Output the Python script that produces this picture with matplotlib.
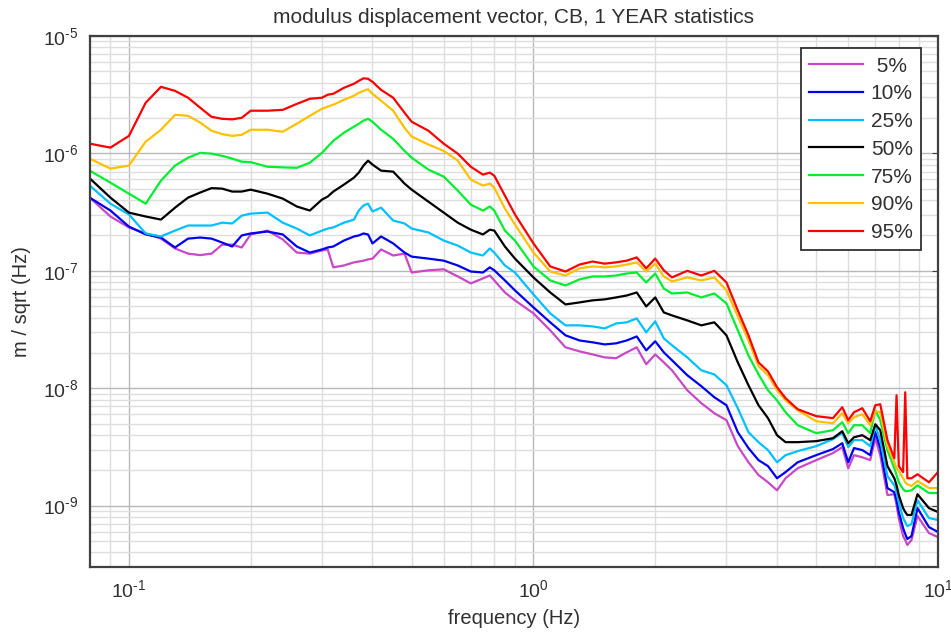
import matplotlib
matplotlib.use("Agg")
import matplotlib.pyplot as plt
from matplotlib.ticker import FuncFormatter
import math

# frequency grid (Hz)
freq = [0.08, 0.09, 0.10, 0.11, 0.12, 0.13, 0.14, 0.15, 0.16, 0.17,
        0.18, 0.19, 0.20, 0.22, 0.24, 0.26, 0.28, 0.30, 0.31, 0.32,
        0.34, 0.36, 0.37, 0.38, 0.39, 0.40, 0.42, 0.45, 0.48, 0.50,
        0.55, 0.60, 0.65, 0.70, 0.75, 0.78, 0.80, 0.85, 0.90, 1.0,
        1.1, 1.2, 1.3, 1.4, 1.5, 1.6, 1.7, 1.8, 1.9, 2.0,
        2.1, 2.2, 2.4, 2.6, 2.8, 3.0, 3.2, 3.4, 3.6, 3.8,
        4.0, 4.2, 4.5, 5.0, 5.5, 5.8, 6.0, 6.2, 6.5, 6.8,
        7.0, 7.2, 7.5, 7.8, 7.9, 8.0, 8.2, 8.3, 8.4, 8.6,
        8.9, 9.5, 10.0]

# percentile curves, m / sqrt(Hz)
p05 = [4.20e-7, 2.90e-7, 2.34e-7, 2.08e-7, 1.88e-7, 1.55e-7, 1.40e-7, 1.36e-7, 1.40e-7, 1.67e-7,
       1.67e-7, 1.58e-7, 2.04e-7, 2.20e-7, 1.85e-7, 1.43e-7, 1.40e-7, 1.49e-7, 1.52e-7, 1.07e-7,
       1.11e-7, 1.18e-7, 1.20e-7, 1.22e-7, 1.25e-7, 1.27e-7, 1.52e-7, 1.35e-7, 1.40e-7, 9.67e-8,
       1.01e-7, 1.03e-7, 8.95e-8, 7.81e-8, 8.61e-8, 9.12e-8, 8.28e-8, 6.54e-8, 5.60e-8, 4.34e-8,
       3.11e-8, 2.23e-8, 2.06e-8, 1.94e-8, 1.83e-8, 1.80e-8, 2.02e-8, 2.23e-8, 1.60e-8, 1.94e-8,
       1.66e-8, 1.42e-8, 9.61e-9, 7.45e-9, 6.12e-9, 5.34e-9, 3.21e-9, 2.34e-9, 1.82e-9, 1.58e-9,
       1.35e-9, 1.71e-9, 2.08e-9, 2.44e-9, 2.80e-9, 3.15e-9, 2.08e-9, 2.69e-9, 2.58e-9, 2.44e-9,
       3.75e-9, 2.69e-9, 1.23e-9, 1.25e-9, 1.01e-9, 7.83e-10, 5.50e-10, 5.09e-10, 4.62e-10, 5.09e-10,
       8.15e-10, 5.84e-10, 5.39e-10]
p10 = [4.20e-7, 3.26e-7, 2.38e-7, 2.04e-7, 1.92e-7, 1.58e-7, 1.88e-7, 1.92e-7, 1.88e-7, 1.74e-7,
       1.61e-7, 2.00e-7, 2.08e-7, 2.16e-7, 2.04e-7, 1.61e-7, 1.43e-7, 1.52e-7, 1.58e-7, 1.61e-7,
       1.81e-7, 1.96e-7, 2.00e-7, 2.08e-7, 2.04e-7, 1.71e-7, 1.96e-7, 1.71e-7, 1.43e-7, 1.32e-7,
       1.27e-7, 1.22e-7, 1.11e-7, 9.86e-8, 9.67e-8, 1.07e-7, 1.01e-7, 8.28e-8, 6.81e-8, 4.88e-8,
       3.64e-8, 2.82e-8, 2.55e-8, 2.46e-8, 2.36e-8, 2.41e-8, 2.55e-8, 2.76e-8, 2.10e-8, 2.51e-8,
       2.02e-8, 1.73e-8, 1.29e-8, 1.04e-8, 8.37e-9, 7.16e-9, 4.22e-9, 3.09e-9, 2.44e-9, 2.17e-9,
       1.71e-9, 1.93e-9, 2.34e-9, 2.69e-9, 3.03e-9, 3.40e-9, 2.34e-9, 3.09e-9, 2.97e-9, 2.69e-9,
       4.22e-9, 3.09e-9, 1.41e-9, 1.30e-9, 1.11e-9, 8.82e-10, 6.43e-10, 5.73e-10, 5.19e-10, 5.50e-10,
       9.52e-10, 6.56e-10, 5.96e-10]
p25 = [5.32e-7, 3.73e-7, 3.02e-7, 2.08e-7, 1.96e-7, 2.20e-7, 2.43e-7, 2.43e-7, 2.43e-7, 2.57e-7,
       2.53e-7, 2.95e-7, 3.07e-7, 3.13e-7, 2.57e-7, 2.29e-7, 2.00e-7, 2.20e-7, 2.29e-7, 2.34e-7,
       2.57e-7, 2.73e-7, 3.26e-7, 3.60e-7, 3.73e-7, 3.20e-7, 3.45e-7, 2.68e-7, 2.53e-7, 2.29e-7,
       2.12e-7, 1.81e-7, 1.64e-7, 1.43e-7, 1.35e-7, 1.55e-7, 1.43e-7, 1.11e-7, 9.67e-8, 6.29e-8,
       4.34e-8, 3.43e-8, 3.43e-8, 3.36e-8, 3.23e-8, 3.56e-8, 3.64e-8, 3.93e-8, 2.99e-8, 3.71e-8,
       2.66e-8, 2.32e-8, 1.83e-8, 1.42e-8, 1.31e-8, 1.06e-8, 6.75e-9, 4.22e-9, 3.47e-9, 2.97e-9,
       2.34e-9, 2.69e-9, 2.91e-9, 3.21e-9, 3.68e-9, 4.14e-9, 3.15e-9, 3.61e-9, 3.61e-9, 3.21e-9,
       4.84e-9, 3.61e-9, 1.78e-9, 1.49e-9, 1.30e-9, 1.07e-9, 7.83e-10, 7.25e-10, 6.69e-10, 6.96e-10,
       1.11e-9, 7.83e-10, 7.54e-10]
p50 = [6.13e-7, 4.20e-7, 3.13e-7, 2.90e-7, 2.73e-7, 3.45e-7, 4.20e-7, 4.64e-7, 5.06e-7, 5.01e-7,
       4.73e-7, 4.73e-7, 4.91e-7, 4.54e-7, 4.12e-7, 3.53e-7, 3.26e-7, 4.04e-7, 4.29e-7, 4.73e-7,
       5.42e-7, 6.22e-7, 6.86e-7, 7.87e-7, 8.67e-7, 8.03e-7, 7.13e-7, 6.99e-7, 5.53e-7, 4.91e-7,
       3.88e-7, 3.13e-7, 2.57e-7, 2.24e-7, 2.04e-7, 2.24e-7, 2.20e-7, 1.61e-7, 1.27e-7, 8.78e-8,
       6.54e-8, 5.17e-8, 5.38e-8, 5.60e-8, 5.71e-8, 5.93e-8, 6.16e-8, 6.54e-8, 4.97e-8, 5.93e-8,
       4.42e-8, 4.17e-8, 3.78e-8, 3.43e-8, 3.64e-8, 2.82e-8, 1.66e-8, 1.06e-8, 7.16e-9, 5.56e-9,
       3.98e-9, 3.47e-9, 3.47e-9, 3.54e-9, 3.75e-9, 4.30e-9, 3.40e-9, 3.82e-9, 3.98e-9, 3.61e-9,
       4.93e-9, 4.39e-9, 2.17e-9, 1.71e-9, 1.49e-9, 1.23e-9, 9.52e-10, 8.82e-10, 8.32e-10, 8.32e-10,
       1.25e-9, 9.52e-10, 8.82e-10]
p75 = [7.13e-7, 5.63e-7, 4.54e-7, 3.73e-7, 5.86e-7, 7.87e-7, 9.19e-7, 1.01e-6, 9.95e-7, 9.53e-7,
       9.02e-7, 8.50e-7, 8.42e-7, 7.70e-7, 7.60e-7, 7.54e-7, 8.33e-7, 1.01e-6, 1.14e-6, 1.28e-6,
       1.50e-6, 1.69e-6, 1.79e-6, 1.90e-6, 1.97e-6, 1.86e-6, 1.59e-6, 1.33e-6, 1.05e-6, 9.19e-7,
       7.27e-7, 6.34e-7, 4.82e-7, 3.66e-7, 3.26e-7, 3.53e-7, 3.26e-7, 2.20e-7, 1.81e-7, 1.09e-7,
       8.28e-8, 7.50e-8, 8.45e-8, 8.95e-8, 8.95e-8, 9.12e-8, 9.48e-8, 9.67e-8, 7.96e-8, 9.48e-8,
       7.07e-8, 6.41e-8, 6.54e-8, 5.93e-8, 6.41e-8, 5.28e-8, 3.11e-8, 1.90e-8, 1.31e-8, 9.61e-9,
       7.87e-9, 6.24e-9, 4.84e-9, 4.14e-9, 4.39e-9, 5.13e-9, 4.14e-9, 4.84e-9, 4.84e-9, 4.14e-9,
       6.49e-9, 5.34e-9, 2.97e-9, 2.08e-9, 1.82e-9, 1.58e-9, 1.38e-9, 1.33e-9, 1.33e-9, 1.35e-9,
       1.49e-9, 1.28e-9, 1.28e-9]
p90 = [9.02e-7, 7.42e-7, 7.87e-7, 1.26e-6, 1.59e-6, 2.13e-6, 2.09e-6, 1.83e-6, 1.56e-6, 1.46e-6,
       1.41e-6, 1.44e-6, 1.59e-6, 1.59e-6, 1.53e-6, 1.79e-6, 2.09e-6, 2.40e-6, 2.50e-6, 2.60e-6,
       2.86e-6, 3.10e-6, 3.28e-6, 3.41e-6, 3.52e-6, 3.22e-6, 2.81e-6, 2.31e-6, 1.65e-6, 1.39e-6,
       1.19e-6, 1.05e-6, 8.67e-7, 5.98e-7, 5.32e-7, 5.53e-7, 5.11e-7, 3.39e-7, 2.48e-7, 1.43e-7,
       9.86e-8, 9.12e-8, 1.05e-7, 1.09e-7, 1.07e-7, 1.09e-7, 1.13e-7, 1.18e-7, 9.86e-8, 1.15e-7,
       8.95e-8, 8.12e-8, 8.78e-8, 8.28e-8, 8.78e-8, 6.81e-8, 4.09e-8, 2.55e-8, 1.54e-8, 1.29e-8,
       9.61e-9, 7.87e-9, 6.49e-9, 5.23e-9, 5.03e-9, 6.12e-9, 5.03e-9, 5.66e-9, 6.00e-9, 4.84e-9,
       6.36e-9, 6.24e-9, 3.21e-9, 2.34e-9, 2.08e-9, 1.97e-9, 1.71e-9, 1.58e-9, 1.52e-9, 1.47e-9,
       1.62e-9, 1.41e-9, 1.41e-9]
p95 = [1.21e-6, 1.12e-6, 1.41e-6, 2.70e-6, 3.69e-6, 3.41e-6, 2.98e-6, 2.45e-6, 2.05e-6, 1.97e-6,
       1.95e-6, 2.01e-6, 2.31e-6, 2.31e-6, 2.35e-6, 2.64e-6, 2.92e-6, 2.98e-6, 3.16e-6, 3.22e-6,
       3.62e-6, 3.92e-6, 4.15e-6, 4.36e-6, 4.32e-6, 4.07e-6, 3.48e-6, 2.98e-6, 2.22e-6, 1.86e-6,
       1.56e-6, 1.21e-6, 9.95e-7, 7.70e-7, 6.59e-7, 6.86e-7, 6.46e-7, 4.37e-7, 3.02e-7, 1.71e-7,
       1.09e-7, 9.86e-8, 1.13e-7, 1.20e-7, 1.15e-7, 1.18e-7, 1.22e-7, 1.30e-7, 1.05e-7, 1.27e-7,
       1.01e-7, 8.78e-8, 1.00e-7, 9.12e-8, 1.00e-7, 7.96e-8, 4.60e-8, 2.82e-8, 1.66e-8, 1.39e-8,
       1.02e-8, 8.22e-9, 6.62e-9, 5.78e-9, 5.56e-9, 6.89e-9, 5.34e-9, 6.24e-9, 6.75e-9, 5.23e-9,
       7.16e-9, 7.30e-9, 3.61e-9, 2.53e-9, 8.71e-9, 2.17e-9, 1.93e-9, 9.23e-9, 1.71e-9, 1.71e-9,
       1.85e-9, 1.58e-9, 1.93e-9]

labels = [" 5%", "10%", "25%", "50%", "75%", "90%", "95%"]
colors = ["#c848c8", "#0000f0", "#00c0ff", "#000000", "#00ee30", "#ffc000", "#ff0000"]
curves = [p05, p10, p25, p50, p75, p90, p95]

plt.rcParams['font.family'] = ['Liberation Sans', 'DejaVu Sans']
plt.rcParams['mathtext.fontset'] = 'custom'
plt.rcParams['mathtext.rm'] = 'Liberation Sans'
plt.rcParams['axes.unicode_minus'] = False


def pow10(v, pos):
    # "10" with a short hyphen in the exponent, like the original plot
    k = int(round(math.log10(v)))
    sign = "\u2010" if k < 0 else ""
    return "$\\mathdefault{10^{%s%d}}$" % (sign, abs(k))


fig = plt.figure(figsize=(9.51, 6.37), dpi=100)
ax = fig.add_axes([0.0946, 0.1099, 0.8917, 0.8336])

for vals, col, lab in zip(curves, colors, labels):
    ax.plot(freq, vals, color=col, lw=1.6, label=lab)

ax.set_xscale('log')
ax.set_yscale('log')
ax.set_xlim(0.0801, 10)
ax.set_ylim(3e-10, 1e-5)
ax.xaxis.set_major_formatter(FuncFormatter(pow10))
ax.yaxis.set_major_formatter(FuncFormatter(pow10))

ax.grid(True, which='major', color='#b8b8b8', lw=1.0)
ax.grid(True, which='minor', color='#dedede', lw=1.0)
ax.set_axisbelow(True)

for sp in ax.spines.values():
    sp.set_color('#404040')
    sp.set_linewidth(1.6)

ax.tick_params(which='both', left=False, bottom=False, labelsize=14,
               labelcolor='#303030')
ax.tick_params(axis='y', which='major', right=True, direction='in',
               length=4, color='#404040')
ax.tick_params(axis='x', pad=5)
ax.tick_params(axis='y', pad=8)

ax.set_title('modulus displacement vector, CB, 1 YEAR statistics',
             fontsize=15, color='#303030', pad=9)
ax.set_xlabel('frequency (Hz)', fontsize=14.5, color='#303030', labelpad=6)
ax.set_ylabel('m / sqrt (Hz)', fontsize=14.5, color='#303030', labelpad=9)

leg = ax.legend(loc='upper right', bbox_to_anchor=(0.98, 0.977), borderaxespad=0,
                fontsize=15, fancybox=False, framealpha=1, edgecolor='#303030',
                handlelength=2.6, handletextpad=0.35, labelspacing=0.42,
                borderpad=0.4)
leg.get_frame().set_linewidth(1.3)
for t in leg.get_texts():
    t.set_color('#303030')

fig.savefig('out.png', dpi=100)
